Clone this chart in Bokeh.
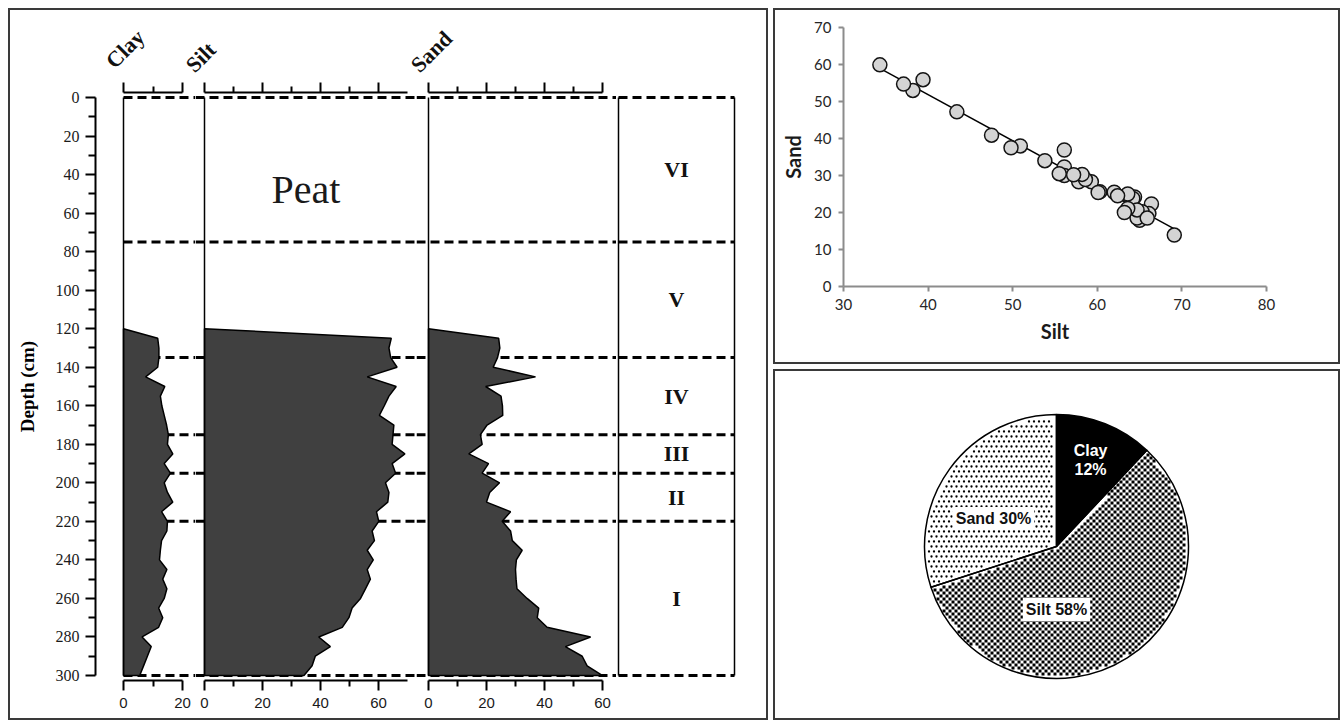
import numpy as np
from bokeh.plotting import figure
from bokeh.models import Range1d, LinearAxis, FixedTicker, Row, Column, CustomLabelingPolicy
from bokeh.core.properties import value
from bokeh.embed import file_html
from bokeh.resources import INLINE

# ---------------- data ----------------
depth = [125, 130, 135, 140, 145, 150, 155, 160, 165, 170, 175, 180, 185, 190, 195, 200, 205, 210,
         215, 220, 225, 230, 235, 240, 245, 250, 255, 260, 265, 270, 275, 280, 285, 290, 295, 300]
clay = [11.6, 12.0, 12.0, 11.6, 7.5, 14.0, 12.5, 13.0, 13.8, 14.6, 15.2, 14.9, 16.7, 13.8, 15.9, 13.8, 14.9, 16.7,
        12.9, 14.9, 14.7, 12.9, 12.5, 12.2, 14.7, 13.3, 14.7, 13.8, 11.9, 13.3, 11.9, 6.3, 9.4, 8.1, 6.8, 5.5]
silt = [64.4, 63.6, 64.2, 66.4, 56.1, 66.1, 63.6, 62.0, 60.3, 65.3, 65.0, 64.7, 69.1, 64.7, 65.9, 62.4, 63.6, 63.2,
        59.3, 60.1, 57.8, 58.6, 56.1, 58.2, 56.1, 57.2, 55.5, 53.8, 50.9, 49.8, 47.5, 39.4, 43.4, 38.2, 37.1, 34.3]
sand = [24.2, 24.6, 23.8, 22.3, 36.9, 19.7, 25.0, 25.5, 25.6, 20.2, 17.9, 18.5, 13.9, 20.7, 18.5, 24.5, 21.1, 20.0,
        28.3, 25.4, 28.3, 28.9, 32.3, 30.3, 30.0, 30.2, 30.5, 34.0, 38.0, 37.5, 40.9, 55.9, 47.2, 53.0, 54.7, 59.9]
peat_base = 120
zone_bounds = [0, 75, 135, 175, 195, 220, 300]
zone_names = ["VI", "V", "IV", "III", "II", "I"]
depth_ticks = list(range(0, 301, 20))
clay_ticks = [0, 20]
silt_ticks = [0, 20, 40, 60]
sand_ticks = [0, 20, 40, 60]
clay_axis_max, silt_axis_max, sand_axis_max = 20, 70, 60
col_names = ["Clay", "Silt", "Sand"]
peat_label = "Peat"
scatter_x_ticks = [30, 40, 50, 60, 70, 80]
scatter_y_ticks = [0, 10, 20, 30, 40, 50, 60, 70]
pie_names = ["Clay", "Silt", "Sand"]
pie_pct = [12, 58, 30]

# ---------------- layout / style ----------------
SERIF = "Liberation Serif"
SANS = "Liberation Sans"
CAL = "Lato"
BORDER = {"border": "2px solid #3a3a3a"}
PX0, INNER_R = 10, 766
HDR_H, COL_H = 68, 640
TOP, BOT = 12, 38
DEPTH_AX, CLAY0, SILT0, SAND0 = 95, 123, 204, 428
ZONE0, ZONE1, ZONE_FR = 618, 734, 738
K_CLAY, K_SILT, K_SAND = 2.95, 2.9, 2.9
CUT1, CUT2, CUT3 = 195, 416, 616
FILL = "#404040"
yr = Range1d(302.6, -2.6)

hide_labels = CustomLabelingPolicy(code="""
for (const i of Array.from(indices)) { indices.unset(i) }
return indices
""")


def col_fig(width, x0, x1, left=0, right=0):
    p = figure(width=width, height=COL_H, x_range=Range1d(x0, x1), y_range=yr,
               x_axis_type=None, y_axis_type=None, toolbar_location=None, output_backend="svg",
               min_border_left=left, min_border_right=right, min_border_top=TOP, min_border_bottom=BOT,
               outline_line_color=None, border_fill_color="white", background_fill_color="white")
    return p


def mids(t):
    return [(a + b) / 2 for a, b in zip(t, t[1:])]


def col_axes(p, hi, ticks):
    for loc in ("above", "below"):
        ax = LinearAxis(bounds=(0, hi), ticker=FixedTicker(ticks=ticks, minor_ticks=mids(ticks)))
        ax.axis_line_width = 2
        ax.major_tick_line_width = 2
        ax.minor_tick_line_width = 2
        ax.major_tick_in = 0
        ax.minor_tick_in = 0
        ax.major_tick_out = 10
        ax.minor_tick_out = 6
        if loc == "above":
            ax.major_label_policy = hide_labels
            ax.major_label_text_font_size = "1px"
            ax.major_label_standoff = 0
        else:
            ax.major_label_text_font = SANS
            ax.major_label_text_font_size = "15px"
            ax.major_label_text_color = "#1a1a1a"
            ax.major_label_standoff = 7
        p.add_layout(ax, loc)


def draw_column(p, vals, xl, xr):
    p.segment(x0=xl, y0=zone_bounds, x1=xr, y1=zone_bounds, line_color="black", line_width=3, line_dash="9 5")
    p.patch(x=[0] + vals + [0], y=[peat_base] + depth + [depth[-1]],
            fill_color=FILL, line_color="black", line_width=1.5)
    p.segment(x0=[0], y0=[zone_bounds[0]], x1=[0], y1=[zone_bounds[-1]], line_color="black", line_width=1.5)


# depth + clay
f1 = col_fig(CUT1 - PX0, (DEPTH_AX - CLAY0) / K_CLAY, (CUT1 - CLAY0) / K_CLAY, left=DEPTH_AX - PX0)
draw_column(f1, clay, 0, (CUT1 - CLAY0) / K_CLAY)
col_axes(f1, clay_axis_max, clay_ticks)
dax = LinearAxis(bounds=(zone_bounds[0], zone_bounds[-1]),
                 ticker=FixedTicker(ticks=depth_ticks, minor_ticks=mids(depth_ticks)),
                 axis_label="Depth (cm)")
dax.axis_line_width = 2
dax.major_tick_line_width = 2
dax.minor_tick_line_width = 2
dax.major_tick_in = 0
dax.minor_tick_in = 0
dax.major_tick_out = 10
dax.minor_tick_out = 7
dax.major_label_text_font = SERIF
dax.major_label_text_font_size = "16px"
dax.major_label_text_color = "#1a1a1a"
dax.major_label_standoff = 6
dax.axis_label_text_font = SERIF
dax.axis_label_text_font_style = "bold"
dax.axis_label_text_font_size = "19px"
dax.axis_label_text_color = "black"
dax.axis_label_standoff = 15
f1.add_layout(dax, "left")

# silt
s0, s1 = (CUT1 - SILT0) / K_SILT, (CUT2 - SILT0) / K_SILT
f2 = col_fig(CUT2 - CUT1, s0, s1)
draw_column(f2, silt, s0, s1)
col_axes(f2, silt_axis_max, silt_ticks)
f2.text(x=[silt_axis_max / 2], y=[48], text=[peat_label], text_font=value(SERIF),
        text_font_size="40px", text_align="center", text_baseline="middle", text_color="#1a1a1a")

# sand
a0, a1 = (CUT2 - SAND0) / K_SAND, (CUT3 - SAND0) / K_SAND
f3 = col_fig(CUT3 - CUT2, a0, a1)
draw_column(f3, sand, a0, a1)
col_axes(f3, sand_axis_max, sand_ticks)

# zones
f4 = col_fig(INNER_R - CUT3, (CUT3 - ZONE0) / (ZONE1 - ZONE0), (ZONE_FR - ZONE0) / (ZONE1 - ZONE0),
             right=INNER_R - ZONE_FR)
f4.segment(x0=0, y0=zone_bounds, x1=1, y1=zone_bounds, line_color="black", line_width=3, line_dash="9 5")
f4.segment(x0=[0, 1], y0=[zone_bounds[0]] * 2, x1=[0, 1], y1=[zone_bounds[-1]] * 2,
           line_color="black", line_width=1.5)
f4.text(x=0.5, y=mids(zone_bounds), text=zone_names, text_font=value(SERIF), text_font_style="bold",
        text_font_size="22px", text_align="center", text_baseline="middle", text_color="#111111")

# header strip with rotated column names
hdr = figure(width=INNER_R - PX0, height=HDR_H, x_range=Range1d(PX0, INNER_R),
             y_range=Range1d(PX0 + HDR_H, PX0), x_axis_type=None, y_axis_type=None,
             toolbar_location=None, output_backend="svg", min_border_left=0, min_border_right=0,
             min_border_top=0, min_border_bottom=0, outline_line_color=None)
hdr.text(x=[CLAY0 - 14, SILT0 - 15, SAND0 - 14], y=[64, 68, 68], text=col_names, angle=45, angle_units="deg",
         text_font=value(SERIF), text_font_style="bold", text_font_size="22px",
         text_align="left", text_baseline="alphabetic", text_color="#111111")

# ---------------- scatter ----------------
ps = figure(width=563, height=352, x_range=Range1d(scatter_x_ticks[0], scatter_x_ticks[-1]),
            y_range=Range1d(scatter_y_ticks[0], scatter_y_ticks[-1]), toolbar_location=None,
            output_backend="svg", min_border_left=68, min_border_right=72, min_border_top=17,
            min_border_bottom=76, outline_line_color=None)
ps.grid.visible = False
ps.xaxis.ticker = FixedTicker(ticks=scatter_x_ticks)
ps.yaxis.ticker = FixedTicker(ticks=scatter_y_ticks)
ps.xaxis.axis_label = "Silt"
ps.yaxis.axis_label = "Sand"
for ax in (ps.xaxis[0], ps.yaxis[0]):
    ax.axis_line_color = "#8c8c8c"
    ax.axis_line_width = 2
    ax.major_tick_line_color = "#8c8c8c"
    ax.major_tick_line_width = 2
    ax.major_tick_in = 0
    ax.major_tick_out = 5
    ax.minor_tick_line_color = None
    ax.major_label_text_font = CAL
    ax.major_label_text_font_size = "15px"
    ax.major_label_text_color = "#262626"
    ax.major_label_standoff = 7
    ax.axis_label_text_font = CAL
    ax.axis_label_text_font_style = "bold"
    ax.axis_label_text_font_size = "20px"
    ax.axis_label_text_color = "#1a1a1a"
    ax.axis_label_standoff = 6
coef = np.polyfit(silt, sand, 1)
lx = np.array([min(silt), max(silt)])
ps.line(lx, np.polyval(coef, lx), line_color="black", line_width=1.5)
ps.scatter(silt, sand, marker="circle", size=14, fill_color="#d4d4d4", line_color="#141414", line_width=1.5)

# ---------------- pie ----------------
R_PX = 132.0
CX, CY = 1056, 546
IN_L, IN_R, IN_T, IN_B = 775, 1338, 371, 718
pp = figure(width=IN_R - IN_L, height=IN_B - IN_T,
            x_range=Range1d((IN_L - CX) / R_PX, (IN_R - CX) / R_PX),
            y_range=Range1d(-(IN_B - CY) / R_PX, (CY - IN_T) / R_PX),
            x_axis_type=None, y_axis_type=None, toolbar_location=None, output_backend="svg",
            min_border_left=0, min_border_right=0, min_border_top=0, min_border_bottom=0,
            outline_line_color=None)
frac = np.array(pie_pct, dtype=float) / sum(pie_pct)
ends = np.cumsum(frac)
starts = ends - frac
a_start = np.pi / 2 - 2 * np.pi * starts
a_end = np.pi / 2 - 2 * np.pi * ends
span = 2 * np.pi * frac


def inside(x, y, k, pad):
    r = np.hypot(x, y)
    d = np.mod(a_start[k] - np.arctan2(y, x), 2 * np.pi)
    eps = pad / np.maximum(r, 1e-6)
    return (r <= 1 - pad) & (d >= eps) & (span[k] - d >= eps)


base_fill = {"Clay": "black", "Silt": "white", "Sand": "white"}
for i, name in enumerate(pie_names):
    pp.wedge(x=0, y=0, radius=1, start_angle=a_start[i], end_angle=a_end[i], direction="clock",
             fill_color=base_fill[name], line_color=None)

# silt: checkerboard texture
c = 3 / R_PX
n = int(1 / c) + 2
ii, jj = np.meshgrid(np.arange(-n, n), np.arange(-n, n))
cx, cy = (ii + 0.5) * c, (jj + 0.5) * c
m = ((ii + jj) % 2 == 0) & inside(cx, cy, pie_names.index("Silt"), 0.75 * c)
pp.scatter(cx[m], cy[m], marker="square", size=3, fill_color="black", line_color=None)

# sand: dotted texture
d_ = 5 / R_PX
n2 = int(1 / d_) + 2
ii2, jj2 = np.meshgrid(np.arange(-n2, n2), np.arange(-n2, n2))
dx, dy = (ii2 + 0.5 * (jj2 % 2)) * d_, jj2 * d_
m2 = inside(dx, dy, pie_names.index("Sand"), 0.6 * d_)
pp.scatter(dx[m2], dy[m2], marker="circle", size=2.3, fill_color="black", line_color=None)

for i, name in enumerate(pie_names):
    pp.wedge(x=0, y=0, radius=1, start_angle=a_start[i], end_angle=a_end[i], direction="clock",
             fill_color=None, line_color="black", line_width=1.5)

label_pos = {"Clay": (0.258, 0.655), "Silt": (0.0, -0.477), "Sand": (-0.477, 0.212)}
for name, pct in zip(pie_names, pie_pct):
    lx_, ly_ = label_pos[name]
    if name == "Clay":
        pp.text(x=[lx_], y=[ly_], text=[f"{name}\n{pct}%"], text_font=value(SANS), text_font_style="bold",
                text_font_size="16px", text_color="white", text_align="center", text_baseline="middle",
                text_line_height=1.15)
    else:
        pp.text(x=[lx_], y=[ly_], text=[f"{name} {pct}%"], text_font=value(SANS), text_font_style="bold",
                text_font_size="16px", text_color="#111111", text_align="center", text_baseline="middle",
                background_fill_color="white", padding=3)

# ---------------- assemble ----------------
left = Column(children=[hdr, Row(children=[f1, f2, f3, f4], spacing=0)], spacing=0, styles=BORDER)
sp = Column(children=[ps], styles=BORDER)
pie = Column(children=[pp], styles=BORDER)
right = Column(children=[sp, pie], spacing=5)
root = Row(children=[left, right], spacing=5, styles={"margin-left": "8px", "margin-top": "8px"})

open("out.html", "w").write(file_html(root, INLINE))
